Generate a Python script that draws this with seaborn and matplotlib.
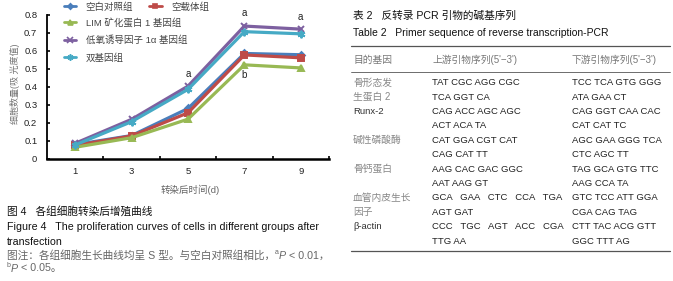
import numpy as np
import pandas as pd
import matplotlib
matplotlib.use("Agg")
import matplotlib.pyplot as plt
from matplotlib.lines import Line2D
import seaborn as sns

# ---------------- data ----------------
days = ["1", "3", "5", "7", "9"]
groups = ["空白对照组", "空载体组", "LIM 矿化蛋白 1 基因组", "低氧诱导因子 1α 基因组", "双基因组"]
blank = [0.080, 0.130, 0.280, 0.585, 0.578]
vector = [0.075, 0.128, 0.256, 0.577, 0.561]
lmp1 = [0.065, 0.118, 0.221, 0.522, 0.505]
hif1a = [0.087, 0.220, 0.404, 0.737, 0.720]
double = [0.078, 0.207, 0.386, 0.706, 0.694]
yticks = [0, 0.1, 0.2, 0.3, 0.4, 0.5, 0.6, 0.7, 0.8]
ytick_labels = ["0", "0.1", "0.2", "0.3", "0.4", "0.5", "0.6", "0.7", "0.8"]
# significance marks: (day, value position, label)
sig_marks = [("5", 0.472, "a"), ("7", 0.810, "a"), ("9", 0.788, "a"), ("7", 0.467, "b")]

table_title_cn = "表 2   反转录 PCR 引物的碱基序列"
table_title_en = "Table 2   Primer sequence of reverse transcription-PCR"
table_header = ["目的基因", "上游引物序列(5'−3')", "下游引物序列(5'−3')"]
table_gene = ["骨形态发", "生蛋白 2", "Runx-2", "", "碱性磷酸酶", "", "骨钙蛋白", "",
              "血管内皮生长", "因子", "β-actin", ""]
table_up = ["TAT CGC AGG CGC", "TCA GGT CA", "CAG ACC AGC AGC", "ACT ACA TA",
            "CAT GGA CGT CAT", "CAG CAT TT", "AAG CAC GAC GGC", "AAT AAG GT",
            "GCA   GAA   CTC   CCA   TGA", "AGT GAT", "CCC   TGC   AGT   ACC   CGA", "TTG AA"]
table_down = ["TCC TCA GTG GGG", "ATA GAA CT", "CAG GGT CAA CAC", "CAT CAT TC",
              "AGC GAA GGG TCA", "CTC AGC TT", "TAG GCA GTG TTC", "AAG CCA TA",
              "GTC TCC ATT GGA", "CGA CAG TAG", "CTT TAC ACG GTT", "GGC TTT AG"]

cap_title_cn = "图 4   各组细胞转染后增殖曲线"
cap_title_en1 = "Figure 4   The proliferation curves of cells in different groups after"
cap_title_en2 = "transfection"
note_text = "图注：各组细胞生长曲线均呈 S 型。与空白对照组相比，"
note_p1 = ("a", "P", " < 0.01，")
note_p2 = ("b", "P", " < 0.05。")

# ---------------- style ----------------
sns.set_theme(style="white")
plt.rcParams['font.family'] = ['Liberation Sans', 'Noto Sans CJK SC', 'DejaVu Sans']
plt.rcParams['axes.unicode_minus'] = False

colors = ['#4A7EBB', '#BE4B48', '#98B954', '#7D60A0', '#46AAC5']
markers = ['D', 's', '^', 'x', (6, 2, 0)]
msizes = [3.5, 4, 4.5, 5, 5.5]

W, H = 673, 281
fig = plt.figure(figsize=(W / 100, H / 100), dpi=100)
fig.patch.set_facecolor('white')

def fx(px):
    return px / W

def fy(py):
    return 1 - py / H

ax = fig.add_axes([fx(47), fy(159), fx(329) - fx(47), fy(14.7) - fy(159)])

df = pd.DataFrame({
    'day': days * 5,
    'od': blank + vector + lmp1 + hif1a + double,
    'group': np.repeat(groups, len(days)),
})

sns.pointplot(data=df, x='day', y='od', hue='group', order=days, hue_order=groups,
              palette=colors, markers=markers, linestyles='-', errorbar=None,
              ax=ax, legend=False, markersize=4, linewidth=2.3)

for i, ln in enumerate(ax.lines[:5]):
    ln.set_markeredgewidth(1.4)
    ln.set_markersize(msizes[i])
    ln.set_solid_capstyle('butt')

ax.set_xlim(-0.5, len(days) - 0.5)
ax.set_ylim(0, 0.8)
ax.set_yticks(yticks)
ax.set_yticklabels(ytick_labels)
ax.set_xticks(range(len(days)))
ax.set_xticklabels(days)
ax.set_xticks(np.arange(len(days)) + 0.5, minor=True)
ax.tick_params(axis='x', which='major', length=0, pad=6, labelsize=6.8, labelcolor='#222222')
ax.tick_params(axis='x', which='minor', direction='in', length=2.5, width=1.2, color='black', bottom=True)
ax.tick_params(axis='y', which='major', direction='in', length=2.5, width=1.2, color='black',
               left=True, pad=7, labelsize=6.8, labelcolor='#222222')
for s in ['top', 'right']:
    ax.spines[s].set_visible(False)
ax.spines['left'].set_linewidth(1.3)
ax.spines['bottom'].set_linewidth(1.8)
ax.spines['left'].set_color('black')
ax.spines['bottom'].set_color('black')
ax.set_xlabel("")
ax.set_ylabel("")
ax.patch.set_alpha(0)

for d, v, lab in sig_marks:
    ax.text(days.index(d), v, lab, ha='center', va='center', fontsize=7,
            color='#222222', clip_on=False)

fig.text(fx(15), fy(84), "细胞数量(吸 光度值)", rotation=90, ha='center', va='center',
         fontsize=6.5, color='#777777')
fig.text(fx(190), fy(190), "转染后时间(d)", ha='center', va='center', fontsize=6.8, color='#666666')

# legends
handles = [Line2D([], [], color=c, marker=m, lw=2.0, ms=s * 0.8, mew=1.2)
           for c, m, s in zip(colors, markers, msizes)]
leg1 = fig.legend(handles[:2], groups[:2], loc='center left', bbox_to_anchor=(fx(64), fy(7)),
                  ncol=2, frameon=False, fontsize=6.8, handlelength=1.3, handletextpad=1.0,
                  columnspacing=1.7, borderpad=0, borderaxespad=0, labelcolor='#444444')
leg2 = fig.legend(handles[2:], groups[2:], loc='upper left', bbox_to_anchor=(fx(64), fy(17.5)),
                  ncol=1, frameon=False, fontsize=6.8, handlelength=1.3, handletextpad=1.0,
                  labelspacing=0.85, borderpad=0, borderaxespad=0, labelcolor='#444444')

# caption
capfs = 7.7
fig.text(fx(7), fy(211.7), cap_title_cn, ha='left', va='center', fontsize=capfs, color='#111111')
fig.text(fx(7), fy(226.7), cap_title_en1, ha='left', va='center', fontsize=capfs, color='#111111')
fig.text(fx(7), fy(242), cap_title_en2, ha='left', va='center', fontsize=capfs, color='#111111')

renderer = fig.canvas.get_renderer()

def run_text(x_px, y_px, pieces):
    """pieces: list of (text, fontsize, style, dy_px)"""
    x = x_px
    for txt, fs, st, dy in pieces:
        t = fig.text(fx(x), fy(y_px - dy), txt, ha='left', va='center', fontsize=fs,
                     fontstyle=st, color='#666666')
        bb = t.get_window_extent(renderer)
        x += bb.width

note_col = '#666666'
run_text(7, 255.7, [(note_text, capfs, 'normal', 0),
                    (note_p1[0], 5.0, 'normal', 3.0),
                    (note_p1[1], capfs, 'italic', 0),
                    (note_p1[2], capfs, 'normal', 0)])
run_text(7, 268.5, [(note_p2[0], 5.0, 'normal', 3.0),
                    (note_p2[1], capfs, 'italic', 0),
                    (note_p2[2], capfs, 'normal', 0)])

# table
fig.text(fx(353), fy(15.7), table_title_cn, ha='left', va='center', fontsize=7.7, color='#111111')
fig.text(fx(353), fy(33), table_title_en, ha='left', va='center', fontsize=7.5, color='#111111')
col_x = [353, 432, 572]
for xx, t in zip(col_x, table_header):
    fig.text(fx(xx), fy(60), t, ha='left', va='center', fontsize=7, color='#777777')
row_y = [82.7 + 14.4 * i for i in range(len(table_gene))]
for y, g, u, d in zip(row_y, table_gene, table_up, table_down):
    is_latin = g.isascii() or g.startswith('β')
    gcol = '#333333' if is_latin else '#888888'
    fig.text(fx(col_x[0]), fy(y), g, ha='left', va='center', fontsize=6.8 if is_latin else 7,
             color=gcol)
    fig.text(fx(col_x[1]), fy(y), u, ha='left', va='center', fontsize=6.8, color='#222222')
    fig.text(fx(col_x[2]), fy(y), d, ha='left', va='center', fontsize=6.8, color='#222222')
for y, lw in [(46, 0.9), (71.7, 0.6), (250.7, 0.9)]:
    fig.add_artist(Line2D([fx(351), fx(670)], [fy(y), fy(y)], color='#555555', lw=lw))

fig.savefig("out.png", dpi=100, facecolor='white')
